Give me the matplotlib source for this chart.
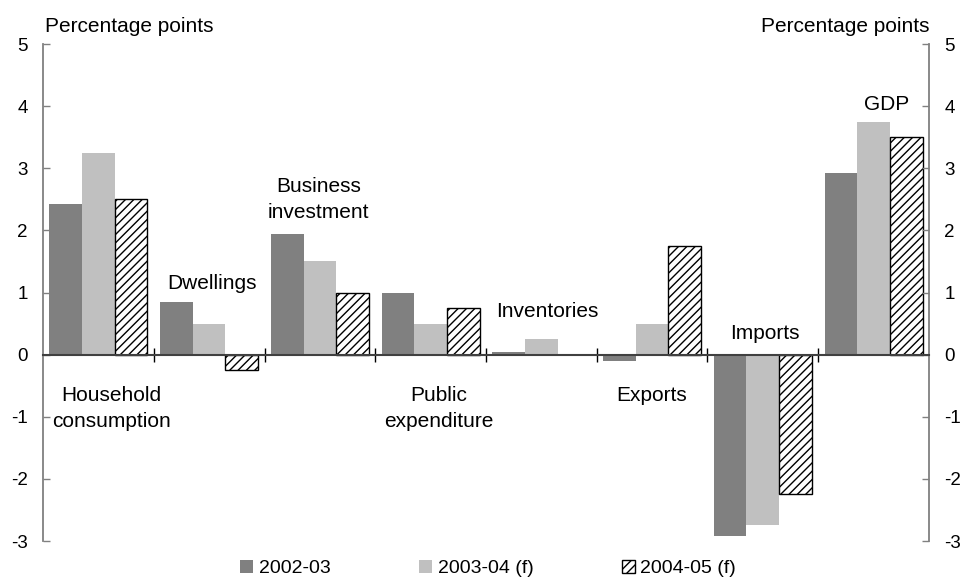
import numpy as np
import matplotlib
matplotlib.use("Agg")
import matplotlib.pyplot as plt
from matplotlib.patches import Patch

plt.rcParams['font.family'] = ['Liberation Sans', 'DejaVu Sans']
plt.rcParams['hatch.linewidth'] = 1.0
plt.rcParams['axes.unicode_minus'] = False

# contributions to GDP growth, by component
categories = ['Household\nconsumption', 'Dwellings', 'Business\ninvestment',
              'Public\nexpenditure', 'Inventories', 'Exports', 'Imports', 'GDP']
series_names = ['2002-03', '2003-04 (f)', '2004-05 (f)']
v_2002 = [2.42, 0.85, 1.95, 1.0, 0.05, -0.1, -2.92, 2.92]
v_2003 = [3.25, 0.5, 1.5, 0.5, 0.25, 0.5, -2.75, 3.75]
v_2004 = [2.5, -0.25, 1.0, 0.75, 0.0, 1.75, -2.25, 3.5]

# where each category name sits (x within its group, y in data units)
label_pos = [(0.62, -0.87), (0.53, 1.14), (0.49, 2.5), (0.57, -0.87),
             (0.55, 0.69), (0.5, -0.66), (0.52, 0.34), (0.62, 4.03)]

fig = plt.figure(figsize=(9.65, 5.8), dpi=100)
ax = fig.add_axes([0.0446, 0.0672, 0.918, 0.8569])

n = len(categories)
centers = np.arange(n) + 0.5
w = 0.295
ax.bar(centers - w, v_2002, w, color='#808080', label=series_names[0])
ax.bar(centers, v_2003, w, color='#c0c0c0', label=series_names[1])
hb = [v if v != 0 else np.nan for v in v_2004]
ax.bar(centers + w, hb, w, facecolor='white', edgecolor='black',
       hatch='////', linewidth=1.0, label=series_names[2])

for i, (name, (dx, y)) in enumerate(zip(categories, label_pos)):
    ax.text(i + dx, y, name, ha='center', va='center', fontsize=15,
            linespacing=1.45)

ax.set_xlim(0, n)
ax.set_ylim(-3, 5)
ax.set_yticks(range(-3, 6))
ax.set_xticks(np.arange(1, n))
ax.set_xticklabels([])

ax.spines['top'].set_visible(False)
ax.spines['bottom'].set_position(('data', 0))
ax.spines['bottom'].set_color('#404040')
ax.spines['bottom'].set_linewidth(1.5)
for s in ['left', 'right']:
    ax.spines[s].set_color('#808080')
    ax.spines[s].set_linewidth(1.3)

ax.tick_params(axis='y', direction='in', length=5, width=1.0, color='#808080',
               labelsize=13.5, left=True, right=True, labelleft=True,
               labelright=True, pad=11)
ax.tick_params(axis='x', direction='inout', length=10, width=1.0,
               color='black')

fig.text(0.047, 0.955, 'Percentage points', fontsize=15, ha='left', va='center')
fig.text(0.963, 0.955, 'Percentage points', fontsize=15, ha='right', va='center')

handles = [Patch(facecolor='#808080'), Patch(facecolor='#c0c0c0'),
           Patch(facecolor='white', edgecolor='black', hatch='////')]
fig.legend(handles, series_names, loc='center', bbox_to_anchor=(0.506, 0.02),
           ncol=3, frameon=False, fontsize=14, handlelength=0.65,
           handleheight=0.65, handletextpad=0.3, columnspacing=4.55)

fig.savefig('out.png', dpi=100)
